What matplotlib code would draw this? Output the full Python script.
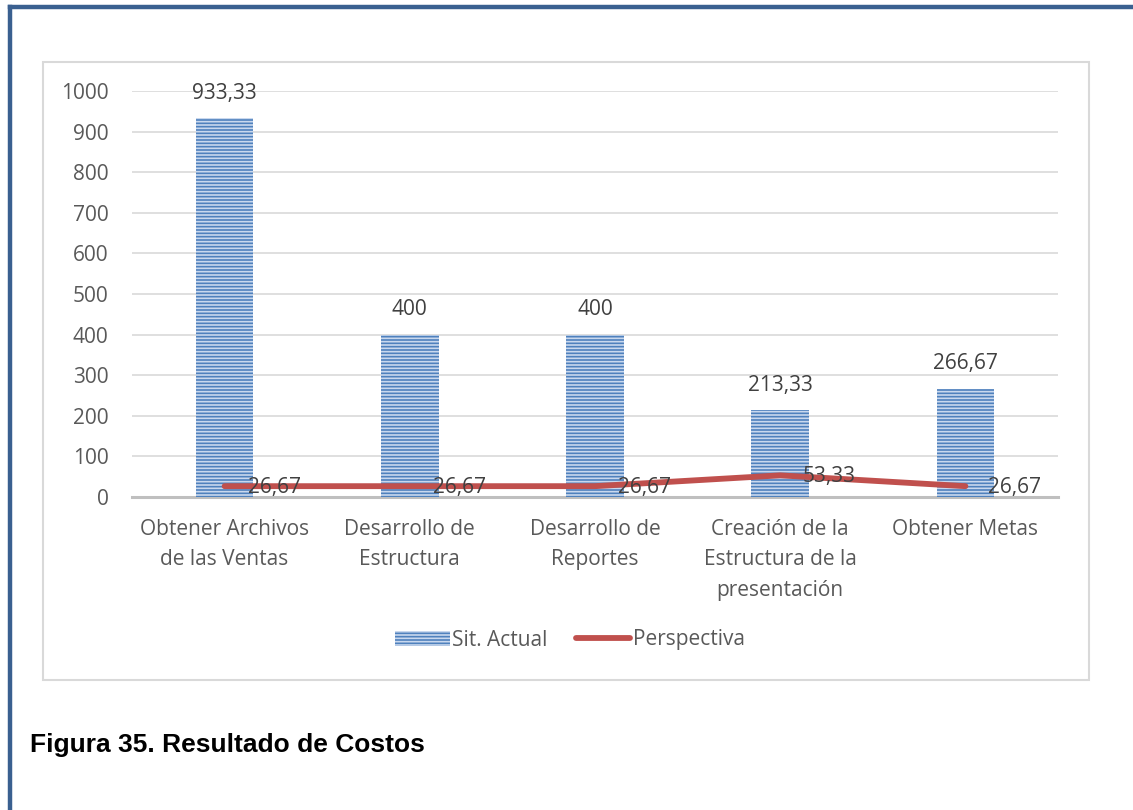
import matplotlib.pyplot as plt
from matplotlib.patches import Rectangle
from matplotlib.lines import Line2D

categorias = ["Obtener Archivos\nde las Ventas", "Desarrollo de\nEstructura",
              "Desarrollo de\nReportes", "Creación de la\nEstructura de la\npresentación",
              "Obtener Metas"]
sit_actual = [933.33, 400, 400, 213.33, 266.67]
perspectiva = [26.67, 26.67, 26.67, 53.33, 26.67]
yticks = [0, 100, 200, 300, 400, 500, 600, 700, 800, 900, 1000]


def fmt(v):
    s = f"{v:.2f}".rstrip("0").rstrip(".")
    return s.replace(".", ",")


plt.rcParams['font.family'] = ['Open Sans', 'DejaVu Sans']
plt.rcParams['hatch.linewidth'] = 1.2
plt.rcParams['hatch.color'] = '#c9d8ee'

FS = 15

fig = plt.figure(figsize=(11.33, 8.1), dpi=100)

# marco de la página
fig.add_artist(Line2D([10 / 1133, 10 / 1133], [0, 1 - 7 / 810], color='#3a6090', lw=3.2))
fig.add_artist(Line2D([10 / 1133, 1], [1 - 7 / 810, 1 - 7 / 810], color='#3a6090', lw=3.2))
# borde del área del gráfico
fig.add_artist(Rectangle((43 / 1133, 1 - 680 / 810), (1089 - 43) / 1133, (680 - 62) / 810,
                         fill=False, edgecolor='#d9d9d9', lw=1.5))

ax = fig.add_axes([132 / 1133, 1 - 497 / 810, 926 / 1133, 406 / 810])
x = list(range(len(categorias)))
ax.bar(x, sit_actual, width=0.31, color='#4f81bd', hatch='-----',
       edgecolor='#c9d8ee', linewidth=0, label='Sit. Actual', zorder=2)
ax.plot(x, perspectiva, color='#c0504d', lw=4.2, solid_capstyle='round',
        label='Perspectiva', zorder=3)

for xi, v in zip(x, sit_actual):
    ax.annotate(fmt(v), (xi, v), xytext=(0, 18), textcoords='offset points',
                ha='center', va='center', fontsize=FS, color='#404040')
for xi, v in zip(x, perspectiva):
    ax.annotate(fmt(v), (xi, v), xytext=(16.5, -1), textcoords='offset points',
                ha='left', va='center', fontsize=FS, color='#404040', zorder=4)

ax.set_xlim(-0.5, len(categorias) - 0.5)
ax.set_ylim(0, 1000)
ax.set_yticks(yticks)
ax.set_yticklabels([str(t) for t in yticks])
ax.set_xticks(x)
ax.set_xticklabels(categorias, linespacing=1.6)
ax.tick_params(axis='both', length=0, labelsize=FS, labelcolor='#595959')
ax.tick_params(axis='y', pad=17)
ax.tick_params(axis='x', pad=15.5)
ax.grid(axis='y', color='#d9d9d9', lw=1.2, zorder=0)
ax.set_axisbelow(True)
for s in ['top', 'right', 'left']:
    ax.spines[s].set_visible(False)
ax.spines['bottom'].set_color('#bfbfbf')
ax.spines['bottom'].set_linewidth(2.2)
ax.spines['bottom'].set_zorder(1)

handles, labels = ax.get_legend_handles_labels()
order = [labels.index('Sit. Actual'), labels.index('Perspectiva')]
leg = fig.legend([handles[i] for i in order], [labels[i] for i in order],
                 loc='center', bbox_to_anchor=(570 / 1133, 1 - 640 / 810), ncol=2,
                 frameon=False, fontsize=FS, handlelength=2.6, handleheight=0.7,
                 columnspacing=1.4, handletextpad=0.1)
for t in leg.get_texts():
    t.set_color('#595959')

fig.text(30 / 1133, 1 - 745 / 810, "Figura 35. Resultado de Costos", fontsize=19,
         fontweight='bold', family='Liberation Sans', va='center', ha='left')

fig.savefig('out.png', dpi=100)
